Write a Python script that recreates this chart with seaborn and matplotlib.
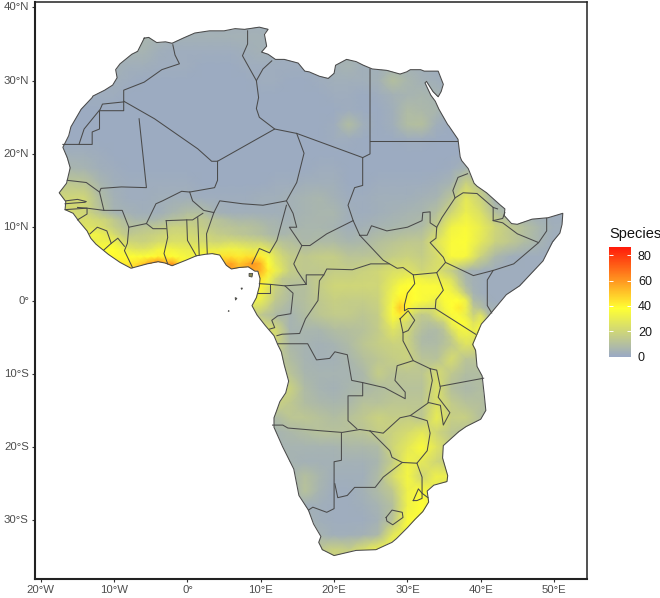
import pandas as pd
import matplotlib
matplotlib.use('Agg')
import matplotlib.pyplot as plt
import seaborn as sns
from matplotlib.colors import LinearSegmentedColormap
from matplotlib.patches import Polygon
from matplotlib.transforms import Affine2D

plt.rcParams['font.family'] = ['Liberation Sans', 'DejaVu Sans']

# species richness, 2 degree cells, ocean cells only carry the nearest land value
grid_lons = list(range(-18, 54, 2))
grid_lats = list(range(38, -38, -2))
richness = [
    [3,3,3,3,3,3, 3,3,3,3,3,3, 3,3,3,3,3,3, 3,3,3,3,3,3, 3,3,3,3,3,3, 3,3,3,3,3,3],
    [3,3,3,3,4,5, 6,5,4,4,4,4, 4,4,4,3,2,2, 2,2,2,2,2,2, 2,2,2,2,2,2, 2,2,2,2,2,2],
    [3,3,3,3,4,5, 5,3,2,2,2,2, 2,3,4,3,2,2, 2,3,4,3,2,2, 2,2,2,2,2,2, 2,2,2,2,2,2],
    [3,3,3,3,4,3, 3,2,2,2,1,1, 1,2,2,2,2,2, 2,4,5,3,3,4, 4,3,2,2,2,2, 2,2,2,2,2,2],
    [3,3,3,2,3,2, 1,1,1,1,1,1, 1,1,2,2,1,1, 2,3,3,3,4,10, 6,4,3,2,2,2, 2,2,2,2,2,2],
    [2,2,2,2,2,1, 1,1,1,1,1,1, 1,1,1,1,1,1, 1,2,2,1,2,4, 5,6,5,2,2,2, 2,2,2,2,2,2],
    [1,1,1,1,1,1, 1,1,1,1,1,1, 1,1,1,1,1,1, 1,1,2,1,1,3, 8,7,6,2,2,2, 2,2,2,2,2,2],
    [1,1,1,1,1,1, 1,1,1,1,1,1, 1,1,1,1,1,1, 1,2,9,3,1,3, 9,10,3,1,1,1, 1,1,1,1,1,1],
    [1,1,1,1,1,1, 1,1,1,1,1,1, 1,1,1,1,1,1, 1,2,2,1,1,1, 2,2,1,1,1,1, 1,1,1,1,1,1],
    [3,3,3,2,1,1, 1,1,1,1,1,1, 1,1,1,1,1,1, 1,1,1,1,1,1, 1,1,1,1,1,1, 1,1,1,1,1,1],
    [6,6,5,3,2,1, 1,1,1,1,1,1, 1,1,1,1,1,1, 2,2,1,1,1,1, 1,1,1,2,5,5, 1,1,1,1,1,1],
    [14,13,12,6,3,2, 2,2,2,2,1,1, 1,1,1,2,2,3, 3,3,1,1,2,2, 2,2,3,5,18,10, 2,1,1,1,1,1],
    [20,20,20,9,4,2, 2,3,3,3,2,2, 2,2,3,3,4,5, 6,4,2,2,3,3, 3,4,5,12,28,18, 3,2,1,1,1,1],
    [22,22,20,12,5,4, 3,3,6,9,9,4, 3,3,3,3,4,5, 6,6,3,2,3,4, 5,6,10,20,31,24, 10,5,2,2,2,2],
    [24,24,26,24,16,10, 12,14,18,18,16,13, 12,11,9,6,5,6, 6,5,3,4,5,6, 7,8,16,33,36,30, 20,14,10,6,3,3],
    [26,26,28,32,32,20, 18,22,24,24,22,20, 22,20,18,13,10,7, 8,8,6,7,10,12, 14,14,26,36,37,28, 18,14,9,5,2,2],
    [30,34,36,38,40,30, 30,38,38,36,36,44, 46,44,42,22,16,14, 16,16,12,12,13,16, 18,16,22,36,35,18, 7,3,2,2,2,2],
    [40,42,44,44,44,48, 54,58,56,44,46,52, 56,56,54,32,16,14, 14,16,16,18,20,24, 26,20,24,16,5,3, 2,2,2,2,2,2],
    [40,40,40,40,40,40, 40,40,40,40,40,40, 40,40,40,18,10,10, 16,20,20,20,20,30, 38,36,36,26,6,3, 2,2,2,2,2,2],
    [30,30,30,30,30,30, 30,30,30,30,30,30, 30,30,30,14,8,10, 14,17,16,16,18,34, 38,36,34,36,34,8, 2,2,2,2,2,2],
    [16,16,16,16,16,16, 16,16,16,16,16,16, 20,20,14,8,5,9, 13,15,15,13,16,36, 34,20,30,36,28,30, 8,2,2,2,2,2],
    [24,24,24,24,24,24, 24,24,24,24,24,24, 24,24,24,22,5,6, 6,9,10,11,15,26, 24,11,10,28,30,34, 14,6,2,2,2,2],
    [22,22,22,22,22,22, 22,22,22,22,22,22, 22,22,22,20,7,5, 4,5,8,13,16,18, 18,8,8,14,26,22, 6,4,2,2,2,2],
    [16,16,16,16,16,16, 16,16,16,16,16,16, 16,16,16,14,9,5, 4,4,6,10,13,16, 18,12,11,22,12,12, 6,4,2,2,2,2],
    [16,16,16,16,16,16, 16,16,16,16,16,16, 16,16,16,16,12,6, 5,5,5,7,16,12, 13,13,22,14,9,9, 6,4,2,2,2,2],
    [22,22,22,22,22,22, 22,22,22,22,22,22, 22,22,22,22,18,8, 5,4,6,7,9,11, 11,11,24,10,7,9, 6,4,2,2,2,2],
    [18,18,18,18,18,18, 18,18,18,18,18,18, 18,18,18,18,14,9, 7,6,7,11,11,13, 13,13,24,15,11,10, 6,4,2,2,2,2],
    [12,12,12,12,12,12, 12,12,12,12,12,12, 12,12,12,8,13,13, 11,9,11,14,18,16, 16,13,30,17,17,10, 6,4,2,2,2,2],
    [10,10,10,10,10,10, 10,10,10,10,10,10, 10,10,10,5,7,9, 11,11,11,12,16,18, 22,28,20,13,11,10, 6,4,2,2,2,2],
    [8,8,8,8,8,8, 8,8,8,8,8,8, 8,8,8,5,5,5, 5,5,7,7,8,20, 28,36,26,16,10,8, 6,4,2,2,2,2],
    [8,8,8,8,8,8, 8,8,8,8,8,8, 8,8,8,8,5,4, 4,4,4,4,6,16, 32,28,20,15,10,8, 6,4,2,2,2,2],
    [8,8,8,8,8,8, 8,8,8,8,8,8, 8,8,8,8,5,10, 6,3,3,3,8,22, 34,20,32,30,20,10, 6,4,2,2,2,2],
    [6,6,6,6,6,6, 6,6,6,6,6,6, 6,6,6,6,3,11, 5,2,2,4,8,14, 32,36,28,20,10,6, 5,4,2,2,2,2],
    [5,5,5,5,5,5, 5,5,5,5,5,5, 5,5,5,5,5,3, 3,2,2,3,5,10, 32,38,30,20,10,6, 5,4,2,2,2,2],
    [6,6,6,6,6,6, 6,6,6,6,6,6, 6,6,6,6,6,5, 3,2,2,2,4,12, 36,36,30,20,10,6, 5,4,2,2,2,2],
    [8,8,8,8,8,8, 8,8,8,8,8,8, 8,8,8,8,8,8, 5,3,3,4,7,28, 34,34,30,20,10,6, 5,4,2,2,2,2],
    [14,14,14,14,14,14, 14,14,14,14,14,14, 14,14,14,14,14,14, 14,18,16,24,32,32, 28,28,28,20,10,6, 5,4,2,2,2,2],
    [14,14,14,14,14,14, 14,14,14,14,14,14, 14,14,14,14,14,14, 14,18,16,24,32,32, 28,28,28,20,10,6, 5,4,2,2,2,2],
]

# guinea coast at 1 degree, the hot band is too narrow for the main grid
guinea_lons = list(range(-14, 15))
guinea_lats = list(range(12, 1, -1))
guinea_richness = [
    [20,16,12,8,5,4,4,3,3,3,3,4,6,7,9,9,9,6,4,3,3,3,3,3,3,3,3,3,4],
    [24,22,20,18,14,10,8,6,6,6,7,9,11,12,14,14,14,12,11,10,8,7,7,7,6,5,5,4,4],
    [26,25,24,20,16,13,10,11,12,13,14,16,18,18,18,17,16,14,13,12,12,11,11,10,9,7,6,5,5],
    [30,34,32,28,22,17,14,15,16,17,18,20,21,21,21,20,19,18,16,15,14,13,12,11,10,8,7,6,7],
    [28,30,32,32,32,26,20,19,18,20,22,23,24,24,24,23,22,21,20,21,22,21,20,19,18,15,13,11,10],
    [30,33,36,38,38,34,28,26,26,28,33,34,33,31,30,30,30,30,30,32,33,32,30,28,30,26,20,15,12],
    [36,36,38,38,39,39,38,37,37,38,40,40,38,36,34,34,36,42,42,44,44,42,44,44,42,34,26,20,16],
    [40,40,40,40,40,42,42,44,50,60,66,56,60,42,36,38,40,40,46,54,58,50,54,60,54,38,28,22,16],
    [44,44,44,44,44,46,48,50,56,60,62,56,60,46,38,40,42,44,50,54,58,54,56,56,54,42,32,24,16],
    [20,22,28,34,38,42,44,46,50,50,52,50,50,42,38,38,40,42,44,46,46,44,46,48,44,34,22,14,13],
    [40,40,40,40,40,40,40,40,40,40,40,40,40,40,40,40,40,40,40,40,40,40,40,40,40,30,18,14,10],
]

# great lakes and kenya highlands at 1 degree
rift_lons = list(range(28, 43))
rift_lats = list(range(4, -7, -1))
rift_richness = [
    [24,25,26,23,20,22,24,20,16,10,5,4,3,2,2],
    [27,30,33,34,32,30,30,28,24,14,6,4,3,2,2],
    [30,36,38,38,36,36,36,34,30,18,8,4,3,2,2],
    [32,38,40,38,36,36,36,36,34,28,14,5,3,2,2],
    [34,42,40,38,36,34,30,36,38,38,32,8,6,3,2],
    [36,50,40,30,26,24,26,34,38,42,32,14,10,4,4],
    [36,42,30,18,14,16,24,30,36,36,30,18,26,10,8],
    [32,26,22,16,12,11,14,18,32,38,36,26,30,24,11],
    [26,22,20,14,10,8,8,12,24,32,34,30,36,20,14],
    [22,20,18,12,8,7,8,10,16,28,30,28,26,16,10],
    [18,18,18,13,8,8,8,11,14,20,26,24,22,14,6],
]

coast_lon = [-5.9,-5.3,-4.2,-3,-2.1,-0.6,1,3,5,6.5,7.8,9.8,11,10.5,10.6,10.8,10.1,11,12,13.2,15.1,16,16.6,18,19.2,20,20.2,21.7,23,24,25.2,27.2,29,29.9,30.4,31.8,32.3,34.2,34.9,34.6,34.2,33.5,32.6,32.4,33.2,33.8,34.3,35.5,35.6,36.9,37.2,37.4,38.3,39.1,39.5,40.8,42.7,43.3,43.2,44.2,45,47,49.2,51.2,51.1,50.8,49.8,48.5,47,45.3,43.5,42.5,41,40.1,39.7,38.9,39.3,39.5,40.2,40.5,40.7,40,38,37,34.9,34.8,35.5,35.4,33.6,32.7,32.9,32.1,31,30,28.5,27.9,25.7,23,20,18.8,18.4,17.9,18.2,17.2,16.5,15.2,14.5,13.9,13,11.8,11.8,12.1,12.6,13.4,13.8,13.2,12.8,12.3,11.8,10.6,9.5,8.8,9.4,9.8,9.9,9.6,9.2,8.3,7,6,5.3,4.4,3.4,2.4,1.2,-0.2,-2.1,-3,-4,-5.5,-6.6,-7.7,-9.2,-10.8,-12.5,-13.2,-13.7,-14.8,-15.6,-16.7,-16.6,-17.5,-16.5,-16,-16.4,-17,-16.2,-15.9,-14.5,-13,-12.9,-11.3,-10.2,-9.6,-9.8,-9.2,-7.6,-6.8]
coast_lat = [35.8,35.9,35.2,35.3,35.1,35.8,36.5,36.8,36.8,37.1,37,37.3,37,36.3,35.8,34.7,33.9,33.6,32.9,32.9,32.4,31.3,31.2,30.6,30.3,31,32.1,32.9,32.6,32.1,31.6,31.4,30.9,31.2,31.5,31.5,31.3,31.3,29.5,28.5,27.8,28.5,29.9,29.7,28,27.2,26.1,24,23.9,22,19.6,19.1,18,16,15.6,14.7,13,12.5,11.6,10.5,10.4,11.1,11.3,11.9,10.4,9.2,8,5.4,3.8,2,0.8,-0.4,-2.2,-3.2,-4.1,-6,-6.8,-9,-10.3,-13,-15,-16.2,-17.2,-17.9,-19.8,-21.5,-23.9,-24.7,-25.2,-26,-27.5,-28.8,-29.9,-31,-32.5,-33,-34,-34.1,-34.8,-34.2,-34,-33,-32.2,-30.5,-28.6,-26.6,-23,-21.8,-20,-17.3,-16,-15.2,-13.8,-12.6,-11,-8.8,-7,-6,-4.8,-3.4,-2,-0.7,0.4,1.9,3,4,4,4.6,4.5,4.3,4.8,6.2,6.4,6.3,6.1,5.5,4.75,5.1,5.3,5,4.7,4.4,5.2,6.3,7.7,8.5,9.5,10.8,11.9,12.4,13.5,14.7,16,18.1,19.5,20.9,22.5,23.7,26.1,27.7,27.9,28.7,29.4,30.4,31.5,32.3,33.6,34]

islands = [
    [(8.4,3.7),(8.9,3.7),(8.8,3.2),(8.4,3.3)],
    [(7.3,1.7),(7.5,1.7),(7.4,1.5)],
    [(6.5,0.4),(6.75,0.3),(6.55,0.05)],
    [(5.6,-1.35),(5.7,-1.45),(5.55,-1.5)],
]

borders = [
    [(-2,34.9),(-1.7,33.5),(-1.1,32.3),(-3.5,31.5),(-5.9,29.8),(-8.7,28.7),(-8.7,25.9),(-12,25.9),(-12,23.4),(-13,23),(-13,21.3),(-17,21.3)],
    [(-8.7,27.1),(-11.6,26.8),(-11.9,26.1),(-14.1,23.4),(-14.8,21.3)],
    [(-8.7,27.2),(-4.5,24.8),(1.4,20.7),(3.3,19),(4.1,19),(11.9,23.4),(9.8,25),(9.4,26.2),(9.7,27.7),(9.4,30),(10.3,31.6),(11.5,32.7)],
    [(9.4,30),(7.5,33.4),(8.2,35),(8.2,36.8)],
    [(-6.6,24.8),(-5.6,15.4),(-9,15.5),(-11.8,15.3),(-12,14.8),(-13.8,16.1),(-16.4,16.4)],
    [(4.1,19),(4.1,16.4),(3.7,15.4),(0.3,14.8),(-0.8,14.9),(-3.4,13.6),(-4.3,13.2),(-5.6,10.5),(-8,10),(-8.2,10.5),(-8.9,12.3),(-11.4,12.3),(-12,14.8)],
    [(-11.4,12.3),(-13.7,12.6),(-16.7,12.4)],
    [(-16.7,13.2),(-15.5,13.3),(-14,13.4),(-13.8,13.5),(-15,13.8),(-16.6,13.6)],
    [(-15,12.7),(-13.7,12.6),(-13.7,11.8),(-15,11)],
    [(0.3,14.8),(0.7,13.6),(2.2,12.3),(3.6,12),(4.4,13.6),(7.5,13.2),(10.3,13),(13.5,13.6),(14.9,16.1),(15.9,20.1),(14.9,22.8),(11.9,23.4)],
    [(14.9,22.8),(23.9,19.5),(24.9,20),(24.9,31.6)],
    [(24.9,21.8),(36.8,21.8)],
    [(23.9,19.5),(23.9,15.7),(22.8,15.4),(21.9,13),(22.6,10.9),(19,9.1),(16.7,7.5),(15.6,7.5)],
    [(13.5,13.6),(14.4,11.9),(14.9,10),(13.9,10),(15.6,7.5),(14.5,5),(15,4),(16.2,2.2),(13.3,2),(11.3,2.2),(9.8,2.3)],
    [(13.5,13),(12.2,8.2),(11.2,6.5),(9.8,7.1),(8.8,5)],
    [(3.6,12),(2.6,9.1),(2.7,6.4)],
    [(-2.9,10.9),(-0.1,11),(0.7,11),(2.1,11.9)],
    [(1.4,11.3),(1.6,6.2)],
    [(-0.1,11),(0,8.2),(1.2,6.1)],
    [(-2.9,10.9),(-2.7,8.6),(-3.2,6.4),(-2.7,5)],
    [(-2.9,9.8),(-4.7,9.8),(-5.6,10.5)],
    [(-8,10),(-8.2,7.8),(-8.6,6.8),(-7.5,4.5)],
    [(-13.3,9.1),(-12.3,10),(-11,9.5),(-10.4,7.8),(-11.4,6.9)],
    [(-10.4,7.8),(-9.5,8.5),(-8.6,7.4)],
    [(22.6,10.9),(23.5,8.9),(26.7,5.5),(28.6,4.4),(29.4,4.5),(30.8,3.5),(34,3.8),(35.2,5.2),(34.9,5.9),(33.1,7.9),(33.9,8.5),(34,10),(33.1,10.6),(33.1,12.1),(32.1,12),(32,10.9),(30,10),(27.2,9.5),(25.1,10.2),(24.5,8.9),(23.5,8.9)],
    [(38.2,17.3),(36.9,16.8),(36.2,15),(36.5,14),(34.7,11.3),(34,10)],
    [(36.5,14),(37.6,14.7),(39.5,14.6),(41.7,12.7),(42.3,12.5)],
    [(41.7,12.7),(41.7,10.9),(43,11.2),(43.3,12)],
    [(41.7,10.9),(43,10.6),(45,9.1),(47.9,7.9),(44.5,5),(41.7,4.1),(39,3.4),(35.2,5.2)],
    [(49,11.2),(49,9.5),(47.9,7.9)],
    [(41.7,4.1),(40.9,2.8),(40.9,-0.7),(41.5,-1.7)],
    [(34,3.8),(34.9,1.4),(33.9,0.1),(33.8,-1.1),(39.3,-4.6)],
    [(33.8,-1.1),(30.1,-1.1),(29.6,-1.4),(29.6,-0.6),(30,1),(31,2.3),(30.8,3.5)],
    [(29,-2.5),(30.1,-1.4),(31,-2.7),(30.1,-4.1),(29.4,-4.4),(29,-2.5)],
    [(29.4,-4.4),(29.4,-5.5),(30.8,-8.2),(33.1,-9.3),(34,-9.5),(34.5,-11.9),(34.2,-13.2),(35.8,-15.3),(34.9,-17),(34.5,-14.3),(32.8,-13.9),(33.4,-10.9),(33.1,-9.3)],
    [(34.5,-11.7),(40.4,-10.6)],
    [(30.8,-8.2),(28.6,-8.9),(28.3,-10.9),(29.7,-12.5),(29.7,-13.4),(26.9,-11.9),(23.9,-11.2),(22.4,-10.9),(21.8,-7.4),(20.1,-7),(19.4,-7.9),(17.6,-8.1),(16.4,-5.9),(12.3,-5.9)],
    [(12.2,-4.8),(12.9,-4.6),(15.3,-4.5),(16.1,-2.5),(17.8,0),(18,2.7),(18.6,3.5),(16.2,3.5),(16.2,2.2)],
    [(18.6,3.5),(19,4.3),(22.5,4.2),(25,5),(27.5,5)],
    [(9.6,1),(11.3,1),(11.3,2.2)],
    [(13.3,2),(14.4,1),(14.1,-1.8),(12.3,-2.1),(11.5,-2.7),(11.9,-3.7),(11.2,-3.9)],
    [(23.9,-11.2),(23.9,-13),(21.9,-13),(21.9,-16.4),(23.1,-17.5)],
    [(11.6,-17),(13,-17),(13.7,-17.4),(18.5,-17.8),(21.1,-18),(23.5,-17.6),(24.9,-17.8)],
    [(24.9,-17.8),(26.7,-18.1),(29,-16),(30.4,-15.7),(32.8,-14)],
    [(30.4,-15.7),(32.7,-16.4),(33.1,-18.1),(32.7,-20.5),(31.3,-22.2),(32,-24.1),(32,-26.3),(32.8,-26.9)],
    [(24.9,-17.8),(27.6,-20.5),(27.9,-21.4),(29.3,-22.1),(31.3,-22.2)],
    [(30.8,-27.3),(31.5,-25.7),(32,-26.3),(32,-27),(31.3,-27.3),(30.8,-27.3)],
    [(27.1,-29.6),(27.9,-28.6),(29.3,-28.9),(29.4,-29.6),(28,-30.6),(27.2,-30.1),(27.1,-29.6)],
    [(29.3,-22.1),(26.7,-24.1),(25.6,-25.5),(22.8,-25.5),(21.8,-26.6),(20.5,-26.9),(20.1,-25)],
    [(21,-18.1),(21,-21.8),(20,-22),(20,-28.4),(19,-28.9),(17.1,-28.2),(16.5,-28.6)],
]

x_ticks = [-20,-10,0,10,20,30,40,50]
x_labels = ['20°W','10°W','0°','10°E','20°E','30°E','40°E','50°E']
y_ticks = [-30,-20,-10,0,10,20,30,40]
y_labels = ['30°S','20°S','10°S','0°','10°N','20°N','30°N','40°N']
legend_ticks = [0,20,40,60,80]

fill_max = 86.5
cmap = LinearSegmentedColormap.from_list(
    'species', [(0, '#9AA9C4'), (38 / fill_max, '#FFFF33'), (1, '#FF1A0A')])

fig = plt.figure(figsize=(6.6, 5.98), dpi=100)
ax = fig.add_axes([35 / 660, 1 - 579 / 598, 552 / 660, 577.5 / 598])
cax = fig.add_axes([609 / 660, 1 - 356.5 / 598, 22 / 660, 109.5 / 598])

df = pd.DataFrame(richness, index=grid_lats, columns=grid_lons)
df_guinea = pd.DataFrame(guinea_richness, index=guinea_lats, columns=guinea_lons)
df_rift = pd.DataFrame(rift_richness, index=rift_lats, columns=rift_lons)

sns.heatmap(df, ax=ax, cmap=cmap, vmin=0, vmax=fill_max, shading='gouraud',
            cbar_ax=cax, cbar_kws={'ticks': legend_ticks})
sns.heatmap(df_guinea, ax=ax, cmap=cmap, vmin=0, vmax=fill_max, shading='gouraud', cbar=False)
sns.heatmap(df_rift, ax=ax, cmap=cmap, vmin=0, vmax=fill_max, shading='gouraud', cbar=False)

# seaborn draws in cell numbers, move the meshes to lon/lat
land = Polygon(list(zip(coast_lon, coast_lat)), transform=ax.transData)
for mesh, frame, step in zip(ax.collections, [df, df_guinea, df_rift], [2, 1, 1]):
    mesh.set_transform(Affine2D().scale(step, -step).translate(frame.columns[0], frame.index[0]) + ax.transData)
    mesh.set_clip_path(land)

line_col = '#4a4a4a'
ax.plot(coast_lon + coast_lon[:1], coast_lat + coast_lat[:1], color=line_col, lw=0.75)
for part in borders:
    ax.plot([p[0] for p in part], [p[1] for p in part], color=line_col, lw=0.75)
for part in islands:
    ax.add_patch(Polygon(part, facecolor='#8a8a50', edgecolor=line_col, lw=0.6))

ax.set_xlim(-20.8, 54.5)
ax.set_ylim(-38, 40.8)
ax.set_xticks(x_ticks)
ax.set_xticklabels(x_labels, rotation=0)
ax.set_yticks(y_ticks)
ax.set_yticklabels(y_labels, rotation=0)
ax.set_xlabel('')
ax.set_ylabel('')
ax.tick_params(axis='both', length=2.4, width=0.8, color='#333333', labelcolor='#4D4D4D',
               labelsize=8.2, pad=2)
for side in ax.spines:
    ax.spines[side].set_visible(True)
    ax.spines[side].set_color('#222222')
    ax.spines[side].set_linewidth(1.1)
ax.spines['left'].set_linewidth(1.5)
ax.spines['bottom'].set_linewidth(1.5)

# legend
cax.tick_params(length=0, labelsize=9, labelcolor='#1a1a1a', pad=5)
for t in legend_ticks:
    cax.hlines(t, 0, 0.2, color='white', lw=0.7)
    cax.hlines(t, 0.8, 1, color='white', lw=0.7)
fig.text(609 / 660, 1 - 234 / 598, 'Species', fontsize=10.5, color='#111111', va='center')
for sp in cax.spines.values():
    sp.set_visible(False)

fig.savefig('out.png', dpi=100)
